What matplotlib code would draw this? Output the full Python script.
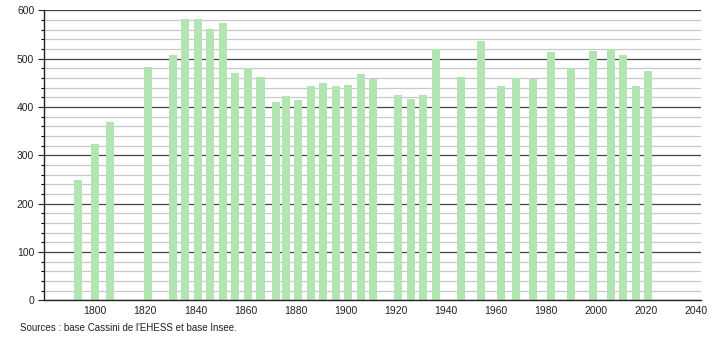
import matplotlib
matplotlib.use("Agg")
import matplotlib.pyplot as plt
from matplotlib.ticker import MultipleLocator

years = [1793, 1800, 1806, 1821, 1831, 1836, 1841, 1846, 1851, 1856, 1861, 1866,
         1872, 1876, 1881, 1886, 1891, 1896, 1901, 1906, 1911, 1921, 1926, 1931,
         1936, 1946, 1954, 1962, 1968, 1975, 1982, 1990, 1999, 2006, 2011, 2016, 2021]
population = [249, 323, 369, 483, 508, 582, 582, 561, 574, 470, 481, 462,
              410, 423, 414, 443, 450, 443, 446, 468, 458, 425, 417, 425,
              519, 462, 537, 443, 459, 458, 514, 481, 516, 519, 508, 443, 474]
xticks = [1800, 1820, 1840, 1860, 1880, 1900, 1920, 1940, 1960, 1980, 2000, 2020, 2040]
source_text = "Sources : base Cassini de l'EHESS et base Insee."

plt.rcParams['font.family'] = ['Liberation Sans', 'DejaVu Sans']

fig = plt.figure(figsize=(7.1, 3.4), dpi=100)
ax = fig.add_axes([44/710, 1 - 300.3/340, (701 - 44)/710, (300.3 - 10.3)/340])

ax.set_xlim(1779.5, 2042)
ax.set_ylim(0, 600)

ax.yaxis.set_major_locator(MultipleLocator(100))
ax.yaxis.set_minor_locator(MultipleLocator(20))
ax.grid(axis='y', which='minor', color='#c8c8c8', linewidth=0.9, zorder=0)
ax.grid(axis='y', which='major', color='#444444', linewidth=0.9, zorder=0)
ax.set_axisbelow(True)

ax.bar(years, population, width=3.2, color='#b2e5b2', zorder=2)

ax.set_xticks(xticks)
ax.set_xticklabels([str(x) for x in xticks])
ax.tick_params(axis='x', length=0, labelsize=7.5, pad=4, colors='#222222')
ax.tick_params(axis='y', which='major', length=4, width=0.8, labelsize=7.5, pad=3, colors='#222222')
ax.tick_params(axis='y', which='minor', length=2, width=0.8)

for s in ['top', 'right']:
    ax.spines[s].set_visible(False)
ax.spines['left'].set_linewidth(1.0)
ax.spines['bottom'].set_linewidth(1.0)
ax.spines['left'].set_color('#222222')
ax.spines['bottom'].set_color('#222222')

fig.text(20/710, 1 - 328/340, source_text, fontsize=7, color='#222222', va='center', ha='left')

fig.savefig("out.png", dpi=100)
